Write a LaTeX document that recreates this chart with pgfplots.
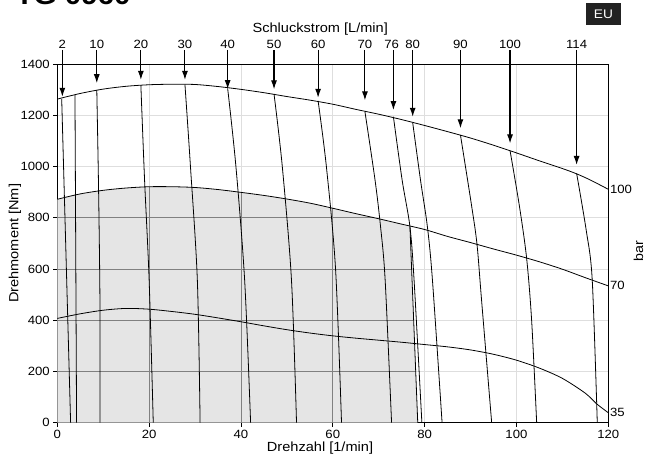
\documentclass[border=0pt]{standalone}
\usepackage{fontspec}
\setmainfont{Liberation Sans}[FakeStretch=1.1]
\usepackage{pgfplots}
\pgfplotsset{compat=1.18}
\usetikzlibrary{arrows.meta}

\definecolor{shade}{HTML}{E5E5E5}
\definecolor{gridlight}{HTML}{DEDEDE}
\definecolor{griddark}{HTML}{808080}
\definecolor{eubox}{HTML}{222222}

\begin{document}
\begin{tikzpicture}
\begin{axis}[
  at={(0,0)}, anchor=south west,
  scale only axis, width=551bp, height=358.7bp,
  xmin=0, xmax=120, ymin=0, ymax=1400,
  xtick={0,20,...,120}, ytick={0,200,...,1400},
  scaled y ticks=false,
  /pgf/number format/1000 sep={},
  /pgf/number format/assume math mode=true,
  tick pos=left, tick align=outside,
  major tick length=4bp,
  every tick/.style={black, line width=0.8bp},
  grid=major, grid style={gridlight, line width=0.8bp},
  axis line style={line width=0.8bp},
  tick label style={font=\fontsize{12}{14}\selectfont},
  xlabel={Drehzahl [1/min]}, ylabel={Drehmoment [Nm]},
  every axis x label/.style={at={(axis description cs:0.4768,-0.0705)}, anchor=center, font=\fontsize{13.3}{15}\selectfont},
  every axis y label/.style={at={(axis description cs:-0.0768,0.5)}, anchor=center, rotate=90, font=\fontsize{13.3}{15}\selectfont},
  clip=false,
]
% shaded working range
\addplot[fill=shade, draw=none] coordinates {(0,872) (5,893) (10,907) (15,916) (20,921) (25,921) (30,918) (35,910) (40,899) (45,887) (50,873) (55,857) (60,837) (65,816) (70,796) (75,775) (76.8,765) (78.5,0)} \closedcycle;
% darker grid inside shaded area
\addplot[griddark, line width=0.8bp] coordinates {(20,0) (20,921)};
\addplot[griddark, line width=0.8bp] coordinates {(40,0) (40,899)};
\addplot[griddark, line width=0.8bp] coordinates {(60,0) (60,837)};
\addplot[griddark, line width=0.8bp] coordinates {(0,200) (78.06,200)};
\addplot[griddark, line width=0.8bp] coordinates {(0,400) (77.61,400)};
\addplot[griddark, line width=0.8bp] coordinates {(0,600) (77.17,600)};
\addplot[griddark, line width=0.8bp] coordinates {(0,800) (69,800)};

% pressure curves 100 / 70 / 35 bar
\addplot[black, line width=0.8bp, smooth] coordinates {(0,1263) (5,1285) (10,1302) (15,1313) (20,1319) (25,1321) (30,1320) (35,1312) (40,1301) (45,1288) (50,1273) (55,1259) (60,1243) (65,1223) (70,1204) (75,1183) (80,1160) (85,1136) (90,1111) (95,1083) (100,1053) (105,1022) (110,992) (113,972) (116,948) (120,911)};
\addplot[black, line width=0.8bp, smooth] coordinates {(0,872) (5,893) (10,907) (15,916) (20,921) (25,921) (30,918) (35,910) (40,899) (45,887) (50,873) (55,857) (60,837) (65,816) (70,796) (75,775) (80,754) (85,727) (90,703) (95,678) (100,654) (105,628) (110,599) (115,566) (120,534)};
\addplot[black, line width=0.8bp, smooth] coordinates {(0,407) (5,425) (10,439) (15,446) (20,443) (25,434) (30,423) (35,409) (40,394) (45,378) (50,363) (55,350) (60,339) (65,330) (70,322) (75,314) (80,305) (85,296) (90,284) (95,267) (100,244) (105,213) (110,173) (115,115) (117.5,73) (120,39)};

% flow lines (Schluckstrom)
\addplot[black, line width=0.8bp] coordinates {(0.96,1263) (2.9,0)};
\addplot[black, line width=0.8bp] coordinates {(3.85,1279) (4.2,0)};
\addplot[black, line width=0.8bp, smooth] coordinates {(8.6,1299) (9.0,900) (9.3,450) (9.3,0)};
\addplot[black, line width=0.8bp, smooth] coordinates {(18.2,1317) (19.0,950) (20.0,557) (20.9,0)};
\addplot[black, line width=0.8bp, smooth] coordinates {(27.8,1320) (29.0,1000) (30.5,557) (31.1,0)};
\addplot[black, line width=0.8bp, smooth] coordinates {(37.1,1305) (38.9,1000) (40.8,557) (42.1,0)};
\addplot[black, line width=0.8bp, smooth] coordinates {(47.2,1283) (49.0,1000) (51.0,557) (52.1,0)};
\addplot[black, line width=0.8bp, smooth] coordinates {(56.8,1256) (58.6,1000) (60.6,600) (61.9,0)};
\addplot[black, line width=0.8bp, smooth] coordinates {(67.0,1214) (69.2,947) (70.4,765) (71.4,557) (72.8,0)};
\addplot[black, line width=0.8bp, smooth] coordinates {(73.2,1194) (75.1,947) (76.8,765) (77.7,557) (79.4,0)};
\addplot[black, line width=0.8bp] coordinates {(76.8,765) (78.5,0)};
\addplot[black, line width=0.8bp, smooth] coordinates {(77.4,1171) (79.1,947) (80.6,765) (81.7,557) (83.8,0)};
\addplot[black, line width=0.8bp, smooth] coordinates {(87.8,1123) (90.2,850) (91.4,697) (92.4,478) (94.6,0)};
\addplot[black, line width=0.8bp, smooth] coordinates {(98.6,1062) (100.6,850) (102.2,644) (103.3,400) (104.4,0)};
\addplot[black, line width=0.8bp, smooth] coordinates {(113.1,973) (115.2,750) (116.5,557) (117.6,0)};

% arrows from the flow labels
\addplot[black, line width=1.1bp, -{Latex[length=9bp,width=6bp]}] coordinates {(1.1,1455) (1.1,1272)};
\addplot[black, line width=1.1bp, -{Latex[length=9bp,width=6bp]}] coordinates {(8.6,1455) (8.6,1325)};
\addplot[black, line width=1.1bp, -{Latex[length=9bp,width=6bp]}] coordinates {(18.2,1455) (18.2,1338)};
\addplot[black, line width=1.1bp, -{Latex[length=9bp,width=6bp]}] coordinates {(27.8,1455) (27.8,1338)};
\addplot[black, line width=1.1bp, -{Latex[length=9bp,width=6bp]}] coordinates {(37.1,1455) (37.1,1302)};
\addplot[black, line width=1.1bp, -{Latex[length=9bp,width=6bp]}] coordinates {(47.2,1455) (47.2,1301)};
\addplot[black, line width=1.1bp, -{Latex[length=9bp,width=6bp]}] coordinates {(56.8,1455) (56.8,1268)};
\addplot[black, line width=1.1bp, -{Latex[length=9bp,width=6bp]}] coordinates {(67.0,1455) (67.0,1258)};
\addplot[black, line width=1.1bp, -{Latex[length=9bp,width=6bp]}] coordinates {(73.2,1455) (73.2,1220)};
\addplot[black, line width=1.1bp, -{Latex[length=9bp,width=6bp]}] coordinates {(77.4,1455) (77.4,1194)};
\addplot[black, line width=1.1bp, -{Latex[length=9bp,width=6bp]}] coordinates {(87.8,1455) (87.8,1149)};
\addplot[black, line width=1.1bp, -{Latex[length=9bp,width=6bp]}] coordinates {(98.6,1455) (98.6,1090)};
\addplot[black, line width=1.1bp, -{Latex[length=9bp,width=6bp]}] coordinates {(113.1,1455) (113.1,1006)};

% flow labels
\begin{scope}[font=\fontsize{12}{14}\selectfont]
\node[anchor=base] at (axis cs:1.1,1459) {2};
\node[anchor=base] at (axis cs:8.6,1459) {10};
\node[anchor=base] at (axis cs:18.2,1459) {20};
\node[anchor=base] at (axis cs:27.8,1459) {30};
\node[anchor=base] at (axis cs:37.1,1459) {40};
\node[anchor=base] at (axis cs:47.2,1459) {50};
\node[anchor=base] at (axis cs:56.8,1459) {60};
\node[anchor=base] at (axis cs:67.0,1459) {70};
\node[anchor=base] at (axis cs:72.8,1459) {76};
\node[anchor=base] at (axis cs:77.4,1459) {80};
\node[anchor=base] at (axis cs:87.8,1459) {90};
\node[anchor=base] at (axis cs:98.6,1459) {100};
\node[anchor=base] at (axis cs:113.1,1459) {114};
\node[anchor=west, inner sep=1.5bp] at (axis cs:120,911) {100};
\node[anchor=west, inner sep=1.5bp] at (axis cs:120,534) {70};
\node[anchor=west, inner sep=1.5bp] at (axis cs:120,39) {35};
\end{scope}
\node[anchor=base, font=\fontsize{13.3}{15}\selectfont] at (axis cs:57.27,1521) {Schluckstrom [L/min]};
\node[rotate=90, inner sep=0pt, font=\fontsize{13}{15}\selectfont] at (axis cs:126.6,670) {bar};
\end{axis}

% title (cut off at the top edge) and region badge
\node[anchor=base west, font=\fontsize{27}{30}\selectfont\bfseries] at (-45.3bp,417.7bp) {TG 0960};
\fill[eubox] (528.7bp,397.7bp) rectangle (563.7bp,419.4bp);
\node[white, font=\fontsize{12.5}{14}\selectfont] at (546.2bp,408.5bp) {EU};

\pgfresetboundingbox
\useasboundingbox (-57.3bp,-38.3bp) rectangle (592.7bp,422.7bp);
\end{tikzpicture}
\end{document}
